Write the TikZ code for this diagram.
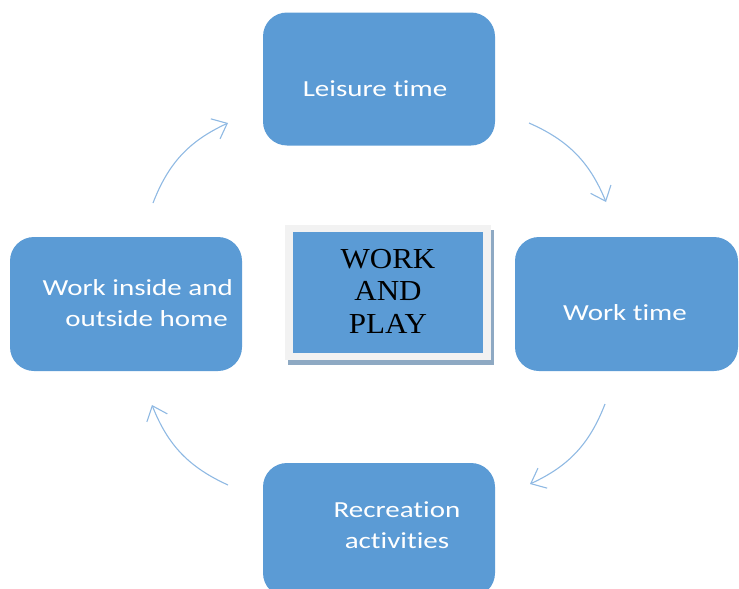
\documentclass[tikz,border=0pt]{standalone}
\usepackage{fontspec}
\setmainfont[Ligatures=NoCommon,FakeStretch=1.26]{Carlito}
\newfontfamily\timesfont[FakeStretch=1.07]{Liberation Serif}
\usetikzlibrary{arrows.meta,shadows}
\definecolor{boxblue}{HTML}{5B9BD5}
\definecolor{arrowblue}{HTML}{8FB9E3}
\definecolor{framegrey}{HTML}{F2F2F2}
\definecolor{shadowgrey}{HTML}{8EA9C3}
\begin{document}
\begin{tikzpicture}[x=1pt,y=1pt,
		activity/.style={fill=boxblue, rounded corners=24pt, minimum width=232pt, minimum height=133pt, inner sep=0pt},
		boxtext/.style={text=white, font=\fontsize{23}{30.5}\selectfont, align=center, inner sep=0pt, anchor=base},
		cycle/.style={draw=arrowblue, line width=1.1pt, -{Straight Barb[length=13pt,width=22pt]}, bend left=22}]
	\useasboundingbox (0,0) rectangle (739,-589);
	% the four activities
	\node[activity] (leisure) at (379,-79) {};
	\node[activity, minimum width=223pt, minimum height=134pt] (worktime) at (626.5,-304) {};
	\node[activity, minimum height=134pt] (home) at (126,-304) {};
	\node[activity, minimum height=134pt] (recreation) at (379,-530) {};
	\node[boxtext] (leisure-text) at (375,-96) {Leisure time};
	\node[boxtext] (worktime-text) at (625,-320) {Work time};
	\node[boxtext, align=right, anchor=base east] (home-text) at (233,-326) {Work inside and\\outside home\hspace*{5pt}};
	\node[boxtext] (recreation-text) at (397,-548) {Recreation\\activities};
	% centre
	\node[fill=framegrey, minimum width=206pt, minimum height=135pt, inner sep=0pt,
		drop shadow={shadow xshift=3pt, shadow yshift=-5pt, fill=shadowgrey, opacity=1}] (play-frame) at (388,-292.5) {};
	\node[fill=boxblue, minimum width=190pt, minimum height=121pt, inner sep=0pt] (play) at (play-frame.center) {};
	\node[font=\timesfont\fontsize{29}{32.5}\selectfont, align=center, inner sep=0pt, anchor=base] (play-text) at (388,-333) {WORK\\AND\\PLAY};
	% arrows
	\coordinate (a1) at (153,-203);
	\coordinate (a2) at (228,-123);
	\coordinate (b1) at (529,-123);
	\coordinate (b2) at (606,-202);
	\coordinate (c1) at (605,-404);
	\coordinate (c2) at (530,-484);
	\coordinate (d1) at (228,-485);
	\coordinate (d2) at (152,-405);
	\draw[cycle] (a1) to (a2);
	\draw[cycle] (b1) to (b2);
	\draw[cycle] (c1) to (c2);
	\draw[cycle] (d1) to (d2);
\end{tikzpicture}
\end{document}
